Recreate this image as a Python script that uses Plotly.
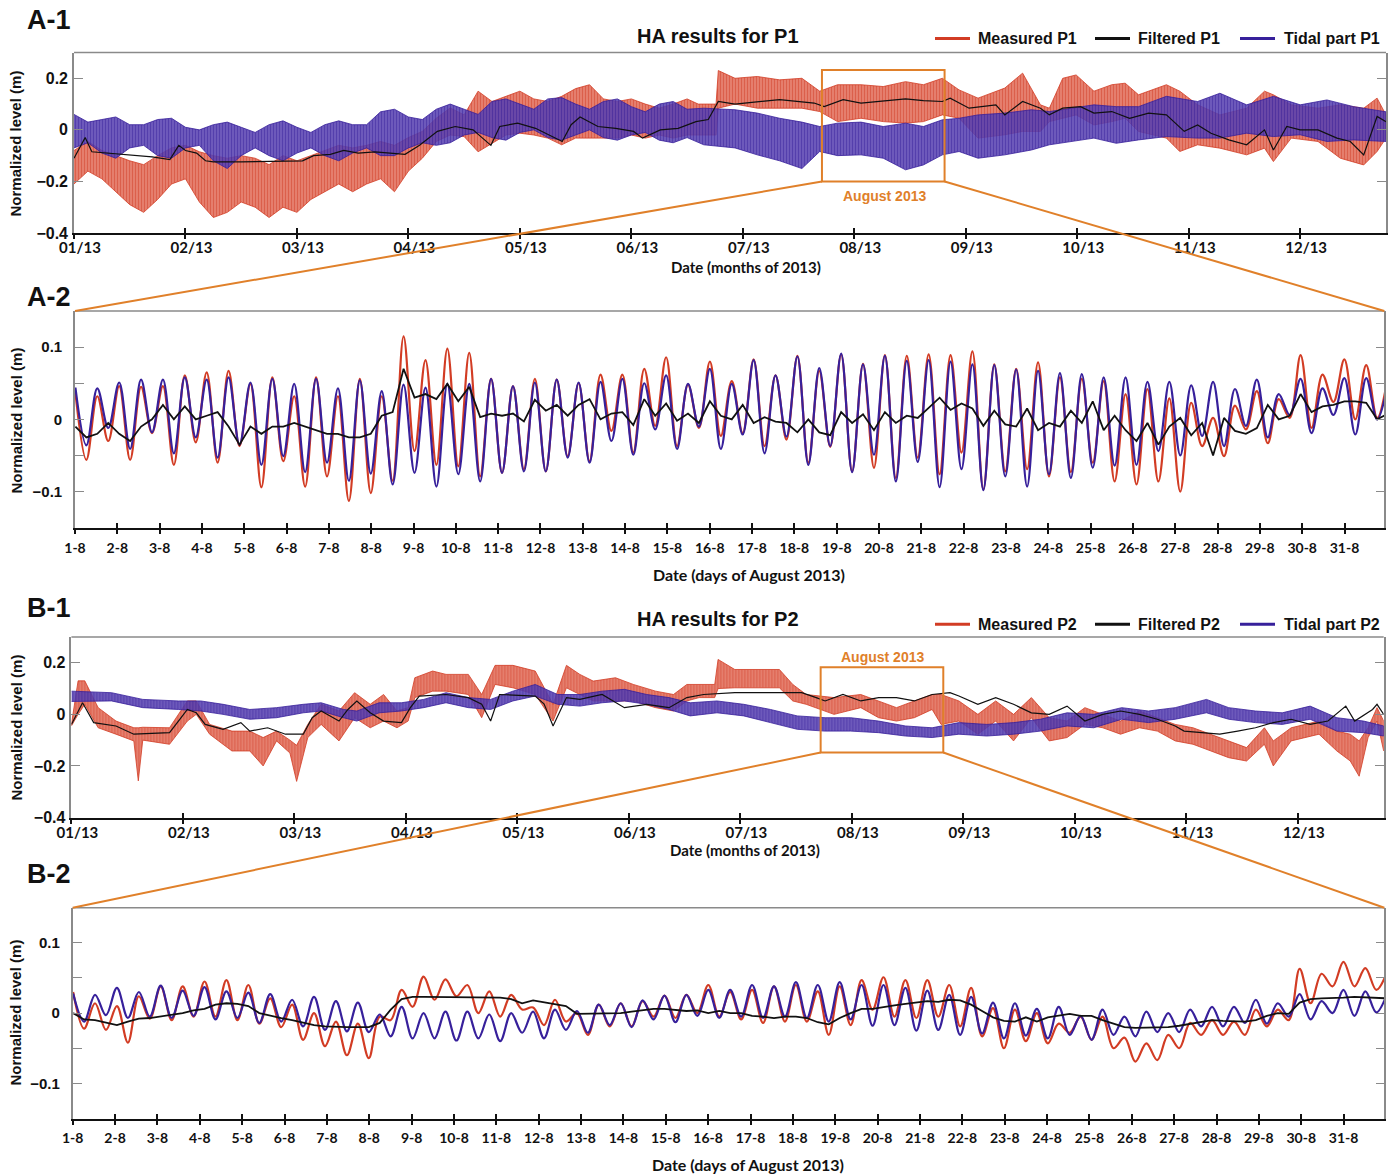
import plotly.graph_objects as go

# ---------------------------------------------------------------------------
# Page geometry helpers (pixel -> paper fraction)
# ---------------------------------------------------------------------------
W, H = 1394, 1174


def fx(px):
    return px / W


def fy(py):
    return 1 - py / H


RED = "#d23c24"
BLUE = "#37209b"
BLACK = "#111111"
ORANGE = "#e0802a"
FRAME = "#8a8a8a"
SANS = "Liberation Sans, Arial, sans-serif"
LABEL = "Lato, Liberation Sans, sans-serif"

# ---------------------------------------------------------------------------
# Axis ticks
# ---------------------------------------------------------------------------
MONTH_TICKS = [0, 1, 2, 3, 4, 5, 6, 7, 8, 9, 10, 11]
MONTH_LABELS = ["01/13", "02/13", "03/13", "04/13", "05/13", "06/13",
                "07/13", "08/13", "09/13", "10/13", "11/13", "12/13"]
DAY_TICKS = [1, 2, 3, 4, 5, 6, 7, 8, 9, 10, 11, 12, 13, 14, 15, 16, 17, 18,
             19, 20, 21, 22, 23, 24, 25, 26, 27, 28, 29, 30, 31]
DAY_LABELS = ["1-8", "2-8", "3-8", "4-8", "5-8", "6-8", "7-8", "8-8", "9-8",
              "10-8", "11-8", "12-8", "13-8", "14-8", "15-8", "16-8", "17-8",
              "18-8", "19-8", "20-8", "21-8", "22-8", "23-8", "24-8", "25-8",
              "26-8", "27-8", "28-8", "29-8", "30-8", "31-8"]

# ---------------------------------------------------------------------------
# P1, whole year (x in months since 1 Jan 2013); tidal & measured as envelopes
# ---------------------------------------------------------------------------
A1_TIDAL_M = [0, 0.125, 0.25, 0.375, 0.5, 0.625, 0.75, 0.875, 1.0, 1.125, 1.25,
              1.375, 1.5, 1.625, 1.75, 1.875, 2.0, 2.125, 2.25, 2.375, 2.5, 2.625,
              2.75, 2.875, 3.0, 3.125, 3.25, 3.375, 3.5, 3.625, 3.75, 3.875, 4.0,
              4.125, 4.25, 4.375, 4.5, 4.625, 4.75, 4.875, 5.0, 5.125, 5.25, 5.375,
              5.5, 5.65, 5.93, 6.13, 6.33, 6.53, 6.69, 6.85, 7.06, 7.26, 7.46, 7.62,
              7.79, 7.94, 8.11, 8.35, 8.59, 8.75, 8.95, 9.15, 9.35, 9.55, 9.8,
              10.08, 10.28, 10.52, 10.76, 11.0, 11.24, 11.48, 11.77]
A1_TIDAL_HI = [.06, .03, .04, .05, .02, .02, .04, .045, .01, 0, .02, .03, .01, -.01,
               .02, .035, .01, -.01, .02, .035, .02, .02, .07, .08, .05, .04, .08, .1,
               .08, .06, .11, .12, .1, .08, .12, .125, .1, .08, .11, .12, .09, .07,
               .1, .11, .08,
               .084, .078, .065, .045, .03, .013, .026, .03, .013, .026, .013, .039,
               .045, .058, .065, .078, .071, .084, .097, .09, .09, .13, .11, .142,
               .097, .13, .097, .116, .09, .07]
A1_TIDAL_LO = [-.07, -.05, -.09, -.11, -.07, -.06, -.1, -.11, -.07, -.06, -.12, -.15,
               -.1, -.07, -.1, -.12, -.09, -.07, -.1, -.12, -.09, -.07, -.1, -.1,
               -.07, -.05, -.06, -.05, -.02, -.01, -.03, -.04, -.01, 0, -.03, -.04,
               -.02, 0, -.03, -.04, -.02, -.01, -.04, -.05, -.03,
               -.058, -.07, -.097, -.12, -.15, -.084, -.1, -.097, -.11, -.155,
               -.136, -.097, -.084, -.11, -.097, -.078, -.058, -.045, -.032, -.052,
               -.039, -.026, -.032, -.032, -.013, -.026, -.019, -.045, -.039, -.045]

A1_MEAS_M = [0, 0.125, 0.25, 0.375, 0.5, 0.625, 0.75, 0.875, 1.0, 1.125, 1.25,
             1.375, 1.5, 1.625, 1.75, 1.875, 2.0, 2.125, 2.25, 2.375, 2.5, 2.625,
             2.75, 2.875, 3.0, 3.125, 3.25, 3.375, 3.5, 3.625, 3.75, 3.875, 4.0,
             4.125, 4.25, 4.375, 4.5, 4.625, 4.75, 4.875, 5.0, 5.125, 5.25, 5.375,
             5.5, 5.6, 5.76, 5.78, 5.93, 6.13, 6.33, 6.53, 6.69, 6.85, 7.06, 7.26,
             7.46, 7.62, 7.79, 7.94, 8.11, 8.35, 8.51, 8.67, 8.75, 8.87, 8.99,
             9.15, 9.31, 9.43, 9.55, 9.8, 9.92, 10.08, 10.28, 10.52, 10.68, 10.76,
             10.92, 11.16, 11.36, 11.57, 11.69, 11.77]
A1_MEAS_HI = [-.08, -.045, -.08, -.1, -.12, -.135, -.1, -.07, -.06, -.085, -.1, -.11,
              -.1, -.11, -.135, -.1, -.12, -.1, -.08, -.06, -.07, -.06, -.045, -.06,
              -.03, -.006, .045, .085, .058, .15, .11, .13, .15, .12, .11, .13, .16,
              .175, .12, .11, .12, .1, .084, .1, .12,
              .1, .1, .23, .2, .207, .194, .2, .15, .175, .175, .168, .187, .175, .2,
              .155, .123, .162, .22, .097, .084, .2, .213, .15, .175, .181, .136,
              .175, .15, .097, .058, .084, .15, .136, .097, .084, .097, .084, .123,
              .058]
A1_MEAS_LO = [-.21, -.16, -.19, -.24, -.29, -.32, -.27, -.21, -.19, -.28, -.34, -.32,
              -.28, -.3, -.34, -.3, -.32, -.27, -.24, -.21, -.24, -.21, -.19, -.24,
              -.16, -.11, -.045, -.02, -.026, -.085, -.052, -.02, -.013, -.02, -.032,
              -.058, -.032, -.032, -.032, -.032, -.02, -.032, -.02, -.032, -.02,
              -.02, -.02, .084, .1, .084, .084, .084, .071, .032, .045, .032, .026,
              .032, .058, .045, -.032, -.019, -.006, -.006, .032, .045, .058, .019,
              .032, .045, -.006, -.032, -.084, -.058, -.071, -.097, -.071, -.123,
              -.032, -.045, -.11, -.136, -.084, -.032]

A1_FILT_M = [0, .1, .16, .3, .5, .7, .86, .94, 1.0, 1.1, 1.18, 1.25, 1.5, 1.75, 2.05,
             2.15, 2.3, 2.42, 2.55, 2.7, 2.85, 2.97, 3.1, 3.26, 3.42, 3.58, 3.66,
             3.74, 3.82, 3.98, 4.14, 4.3, 4.38, 4.46, 4.54, 4.7, 4.86, 5.02, 5.1,
             5.26, 5.42, 5.58, 5.69, 5.78, 5.93, 6.33, 6.64, 6.73, 6.9, 7.06, 7.22,
             7.46, 7.62, 7.79, 7.86, 8.03, 8.27, 8.35, 8.51, 8.67, 8.75, 8.87, 9.03,
             9.15, 9.31, 9.47, 9.64, 9.8, 9.96, 10.08, 10.2, 10.36, 10.52, 10.68,
             10.76, 10.88, 11.0, 11.16, 11.33, 11.45, 11.57, 11.69, 11.77]
A1_FILT = [-.11, -.03, -.085, -.09, -.1, -.105, -.115, -.06, -.08, -.09, -.12, -.124,
           -.124, -.123, -.12, -.1, -.095, -.08, -.09, -.085, -.09, -.095, -.06,
           -.006, .013, 0, -.03, -.06, .013, .026, .006, -.03, -.045, .02, .05, .013,
           .006, -.006, -.032, 0, .006, .032, .04, .11, .1, .117, .104, .09, .117,
           .104, .11, .12, .113, .11, .123, .084, .097, .058, .11, .084, .058, .084,
           .09, .065, .071, .045, .065, .058, -.006, .019, -.013, -.039, -.058, 0,
           -.078, .013, 0, 0, -.032, -.045, -.097, .052, .032]

# ---------------------------------------------------------------------------
# P2, whole year
# ---------------------------------------------------------------------------
B1_TIDAL_M = [0, .36, .64, .96, 1.16, 1.36, 1.6, 1.84, 2.08, 2.24, 2.44, 2.56, 2.76,
              2.96, 3.16, 3.36, 3.56, 3.76, 3.96, 4.16, 4.36, 4.56, 4.76, 4.96, 5.16,
              5.36, 5.55, 5.79, 6.03, 6.27, 6.51, 6.76, 6.99, 7.24, 7.48, 7.72, 7.96,
              8.21, 8.45, 8.69, 8.93, 9.17, 9.42, 9.66, 9.9, 10.18, 10.38, 10.62,
              10.86, 11.11, 11.35, 11.59, 11.77]
B1_TIDAL_HI = [.09, .084, .058, .052, .052, .039, .019, .026, .039, .045, .019, .013,
               .045, .045, .058, .084, .065, .058, .09, .116, .077, .077, .09, .097,
               .077, .065, .045, .052, .039, .019, -.006, -.013, -.013, -.026, -.045,
               -.052, -.032, -.039, -.032, -.019, .006, 0, .026, .013, .026, .058,
               .026, .013, .006, .032, -.013, -.026, -.045]
B1_TIDAL_LO = [.05, .052, .026, .019, .013, 0, -.019, -.013, .006, .013, -.013, -.026,
               .006, .013, .026, .045, .026, .019, .052, .071, .039, .032, .045, .052,
               .039, .019, -.006, .006, -.006, -.032, -.058, -.065, -.065, -.071,
               -.084, -.09, -.077, -.084, -.077, -.065, -.045, -.052, -.019, -.032,
               -.019, .006, -.019, -.032, -.039, -.019, -.065, -.071, -.084]

B1_MEAS_M = [0, .06, .12, .24, .4, .56, .6, .64, .88, 1.04, 1.12, 1.24, 1.44, 1.6,
             1.72, 1.84, 1.96, 2.02, 2.12, 2.24, 2.4, 2.54, 2.68, 2.8, 2.92, 3.02,
             3.08, 3.24, 3.36, 3.56, 3.68, 3.8, 3.96, 4.16, 4.32, 4.44, 4.56, 4.68,
             4.88, 5.04, 5.24, 5.4, 5.52, 5.63, 5.77, 5.8, 5.95, 6.35, 6.47, 6.59,
             6.84, 7.08, 7.24, 7.4, 7.56, 7.72, 7.8, 7.96, 8.13, 8.29, 8.45, 8.61,
             8.77, 8.93, 9.09, 9.25, 9.41, 9.58, 9.74, 9.9, 10.06, 10.22, 10.38,
             10.54, 10.7, 10.78, 10.94, 11.19, 11.35, 11.47, 11.55, 11.63, 11.71,
             11.77]
B1_MEAS_HI = [-.039, .13, .13, .026, -.026, -.052, -.052, -.05, -.052, .052, .052,
              -.039, -.065, -.065, -.09, -.065, -.1, -.12, -.039, .039, .013, .084,
              .039, .077, .013, .026, .142, .168, .155, .155, .077, .19, .19, .168,
              .039, .19, .155, .129, .142, .116, .09, .077, .116, .116, .116, .213,
              .174, .174, .116, .077, .065, .077, .052, .026, .052, .077, .077, .052,
              0, .052, 0, .065, -.013, -.026, .026, 0, -.026, .013, -.013, -.039,
              -.052, -.077, -.103, -.129, -.052, -.103, -.052, -.026, -.065, -.077,
              -.103, -.052, .026, -.026]
B1_MEAS_LO = [-.045, 0, .039, -.052, -.077, -.103, -.258, -.1, -.116, -.026, 0,
              -.077, -.142, -.142, -.2, -.103, -.15, -.26, -.09, -.039, -.103, -.013,
              -.052, -.026, -.052, -.026, .065, .09, .09, .077, -.013, .116, .103,
              .077, -.026, .103, .077, .052, .052, .052, .026, .013, .052, .065, .065,
              .1, .103, .103, .052, .039, 0, .026, -.013, -.026, -.013, .019, -.039,
              -.026, -.077, -.026, -.103, -.013, -.103, -.09, -.039, -.052, -.077,
              -.052, -.065, -.103, -.116, -.142, -.168, -.181, -.116, -.2, -.103,
              -.077, -.142, -.181, -.24, -.09, -.026, -.142]

B1_FILT_M = [0, .1, .2, .4, .56, .88, .96, 1.04, 1.12, 1.2, 1.36, 1.52, 1.6, 1.76,
             1.92, 2.08, 2.16, 2.24, 2.4, 2.48, 2.56, 2.68, 2.8, 2.96, 3.04, 3.12,
             3.36, 3.56, 3.68, 3.76, 3.84, 4.16, 4.24, 4.32, 4.44, 4.56, 4.76, 4.96,
             5.16, 5.36, 5.52, 5.67, 5.95, 6.55, 6.68, 6.76, 6.92, 7.08, 7.24, 7.4,
             7.56, 7.72, 7.88, 7.96, 8.13, 8.29, 8.45, 8.61, 8.77, 8.93, 9.09, 9.25,
             9.41, 9.58, 9.74, 9.9, 9.98, 10.14, 10.3, 10.46, 10.62, 10.78, 10.94,
             11.11, 11.27, 11.43, 11.51, 11.67, 11.71, 11.77]
B1_FILT = [-.039, .045, -.032, -.045, -.077, -.071, -.026, .019, .006, -.039, -.058,
           -.032, -.065, -.052, -.077, -.077, -.013, .013, -.026, .019, .052, .006,
           -.026, -.032, .026, .071, .077, .065, .039, -.026, .077, .071, .04, -.045,
           .065, .058, .077, .026, .039, .026, .065, .077, .084, .084, .065, .052,
           .077, .052, .065, .065, .052, .077, .084, .071, .039, .065, .039, .006, 0,
           .032, -.026, 0, .013, 0, -.019, -.045, -.065, -.071, -.077, -.065, -.052,
           -.032, -.019, -.039, -.026, .032, -.026, .019, .039, 0]

# ---------------------------------------------------------------------------
# August 2013 (x in day of month). Tidal / measured series are given as their
# successive high- and low-water values, sampled every half tidal cycle.
# ---------------------------------------------------------------------------
AUG_START_DAY = 1.01
HALF_CYCLE_DAYS = 0.2585
AUG_T = [round(AUG_START_DAY + HALF_CYCLE_DAYS * k, 4) for k in range(121)]

A2_TIDAL_HIGH = [.044, .043, .051, .055, .055, .058, .055, .058, .051, .056, .049, .056,
                 .043, .054, .039, .048, .044, .049, .049, .056, .046, .051, .055, .051,
                 .052, .056, .05, .061, .049, .07, .049, .082, .061, .087, .071, .091,
                 .076, .088, .081, .082, .08, .076, .075, .069, .067, .064, .0625, .058,
                 .058, .052, .052, .047, .052, .042, .055, .035, .056, .043, .057, .057,
                 .051]
A2_TIDAL_LOW = [-.036, -.012, -.041, -.018, -.047, -.025, -.053, -.035, -.063, -.051,
                -.073, -.06, -.085, -.075, -.09, -.074, -.093, -.076, -.086, -.074,
                -.072, -.072, -.053, -.06, -.03, -.049, -.014, -.041, -.01, -.041,
                -.021, -.047, -.024, -.063, -.037, -.073, -.049, -.086, -.059, -.094,
                -.069, -.098, -.079, -.093, -.076, -.081, -.067, -.064, -.063, -.044,
                -.05, -.023, -.037, -.009, -.025, .006, -.019, .006, -.021, 0]
A2_MEAS_HIGH = [.037, .032, .046, .045, .046, .061, .065, .067, .049, .058, .032, .058,
                .032, .056, .032, .115, .082, .098, .092, .056, .046, .056, .055, .05,
                .062, .062, .07, .086, .048, .08, .053, .083, .061, .088, .067, .09,
                .077, .089, .088, .09, .089, .094, .076, .07, .079, .058, .056, .053,
                .035, .042, .029, .023, .002, .019, .039, .028, .089, .062, .083, .075,
                .061]
A2_MEAS_LOW = [-.056, -.03, -.056, -.019, -.063, -.032, -.06, -.037, -.094, -.058,
               -.093, -.079, -.113, -.102, -.085, -.044, -.063, -.065, -.079, -.074,
               -.069, -.072, -.051, -.058, -.016, -.046, -.009, -.037, -.012, -.023,
               -.019, -.037, -.028, -.06, -.038, -.072, -.067, -.081, -.053, -.076,
               -.046, -.097, -.072, -.069, -.079, -.073, -.06, -.086, -.09, -.086,
               -.1, -.037, -.051, -.014, -.033, .002, -.012, .024, 0, .002]
A2_FILT = [-.01, -.025, -.02, -.005, -.02, -.03, -.01, 0, .02, 0, .018, 0, .005, .01,
           -.01, -.035, -.01, -.02, -.01, -.01, -.005, -.01, -.015, -.02, -.02, -.025,
           -.025, -.02, .005, .01,
           .07, .03, .035, .028, .049, .025, .045, .003, .008, .005, .008, -.003, .027,
           .012, .02, .005, .02, .028, 0, .008, .01, -.008, .028, .005, .022, -.002,
           .008, -.005, .025, .005, 0,
           .02, -.005, .003, -.003, -.005, -.018, 0, -.018, -.022, .01, -.005, .007,
           -.015, .01, -.005, .005, .002, .016, .03, .013, .022, .015, -.009, .012,
           -.007, -.01, .015, -.015, -.005, -.01,
           .012, -.005, .025, -.015, .005, -.015, -.03, -.005, -.035, -.01, .002,
           -.022, -.005, -.05, .002, -.016, -.02, -.012, .02, 0, .005, .035, .01, .018,
           .02, .025, .025, .023, 0, .008]

B2_TIDAL_HIGH = [.028, .026, .036, .03, .039, .032, .037, .031, .029, .027, .019, .023,
                 .017, .015, -.002, .009, 0, .002, .002, -.002, 0, .002, .005, .003,
                 .012, .014, .018, .025, .026, .033, .033, .04, .038, .044, .04, .044,
                 .04, .04, .036, .032, .026, .023, .015, .014, .006, .009, -.004, .005,
                 -.005, .002, 0, .005, .009, .009, .019, .014, .027, .017, .033, .031,
                 .028]
B2_TIDAL_LOW = [-.012, -.003, -.007, -.005, -.007, -.004, -.009, -.007, -.014, -.012,
                -.019, -.024, -.026, -.027, -.033, -.036, -.036, -.039, -.036, -.04,
                -.028, -.036, -.024, -.028, -.017, -.02, -.009, -.013, -.004, -.007,
                -.005, -.007, -.005, -.007, -.012, -.009, -.018, -.017, -.025, -.024,
                -.031, -.029, -.036, -.032, -.036, -.031, -.038, -.031, -.033, -.027,
                -.027, -.019, -.019, -.014, -.015, -.005, -.009, 0, -.004, .001]
B2_MEAS_HIGH = [.03, .014, .01, .024, .038, .038, .045, .047, .04, .021, .012, 0, -.012,
                -.015, -.005, .033, .052, .048, .04, .031, .026, .008, .019, 0, .012,
                .014, .017, .025, .026, .04, .03, .033, .038, .04, .031, .038, .047,
                .051, .047, .047, .04, .036, .007, .005, 0, -.015, -.005, -.005, -.035,
                -.043, -.031, -.014, -.01, -.012, .005, .005, .063, .056, .073, .064,
                .059]
B2_MEAS_LOW = [-.022, -.024, -.042, -.008, -.01, -.005, -.005, -.01, -.015, -.02,
               -.038, -.047, -.06, -.064, -.01, .009, .019, .024, 0, -.005, .005, -.017,
               -.012, -.031, -.019, -.019, -.005, -.007, 0, -.005, -.009, -.014, -.012,
               -.012, -.031, -.017, .005, -.005, -.007, -.005, -.019, -.033, -.05, -.04,
               -.043, -.028, -.038, -.05, -.069, -.067, -.05, -.031, -.031, -.031,
               -.019, -.01, .014, .038, .038, .033]
B2_FILT = [0, -.009, -.01, -.013, -.017, -.012, -.008, -.007, -.005, -.003, 0, .004,
           .006, .012, .014, .013, .01, 0, -.004, -.007, -.01, -.014, -.017, -.019,
           -.02, -.02, -.02, -.02, -.014, .005,
           .02, .023, .023, .023, .023, .023, .023, .023, .023, .022, .02, .014, .018,
           .015, .013, .01, -.001, -.001, -.001, -.001, 0, .002, .004, .006, .006,
           .004, .003, .004, 0, .003, 0,
           0, -.004, -.005, -.007, -.005, -.005, -.007, -.013, -.016, -.007, 0, .006,
           .006, .009, .011, .013, .015, .017, .016, .019, .018, .012, .003, -.006,
           -.011, -.012, -.006, -.012, -.006, -.004,
           -.001, -.004, -.004, -.01, -.015, -.02, -.021, -.021, -.021, -.02, -.018,
           -.015, -.012, -.01, -.011, -.012, -.012, -.01, -.004, 0, -.001, .015, .02,
           .021, .021, .022, .023, .022, .022, .021]


def interleave(highs, lows):
    out = []
    for i, h in enumerate(highs):
        out.append(h)
        if i < len(lows):
            out.append(lows[i])
    return out


# ---------------------------------------------------------------------------
# Panel placement (pixels) and axis ranges
# ---------------------------------------------------------------------------
PANELS = {
    "A1": dict(x="x", y="y", l=74, r=1386, t=52.5, b=233, xr=[0, 11.77], yr=[-0.4, 0.3]),
    "A2": dict(x="x2", y="y2", l=75, r=1384.3, t=311, b=527.7, xr=[1, 31.94], yr=[-0.15, 0.15]),
    "B1": dict(x="x3", y="y3", l=71.4, r=1383.7, t=637, b=817.5, xr=[0, 11.77], yr=[-0.4, 0.3]),
    "B2": dict(x="x4", y="y4", l=72.7, r=1384.3, t=907.7, b=1118.5, xr=[1, 31.96], yr=[-0.15, 0.15]),
}


def to_px(panel, xv, yv):
    p = PANELS[panel]
    x = p["l"] + (xv - p["xr"][0]) / (p["xr"][1] - p["xr"][0]) * (p["r"] - p["l"])
    y = p["b"] - (yv - p["yr"][0]) / (p["yr"][1] - p["yr"][0]) * (p["b"] - p["t"])
    return x, y


fig = go.Figure()


def band(months, hi, lo, color, bg, xa, ya):
    fig.add_trace(go.Scatter(
        x=months + months[::-1], y=hi + lo[::-1], xaxis=xa, yaxis=ya,
        mode="lines", fill="toself",
        line=dict(color=color, width=0.8),
        fillpattern=dict(shape="|", fgcolor=color, bgcolor=bg, size=3, solidity=0.45),
        showlegend=False, hoverinfo="skip"))


def line(xs, ys, color, width, xa, ya, shape="linear"):
    fig.add_trace(go.Scatter(
        x=xs, y=ys, xaxis=xa, yaxis=ya, mode="lines",
        line=dict(color=color, width=width, shape=shape, smoothing=1.0),
        showlegend=False, hoverinfo="skip"))


RED_BG = "rgba(222,100,80,0.8)"
BLUE_BG = "rgba(88,66,178,0.85)"

# Whole-year panels
band(A1_MEAS_M, A1_MEAS_HI, A1_MEAS_LO, RED, RED_BG, "x", "y")
band(A1_TIDAL_M, A1_TIDAL_HI, A1_TIDAL_LO, BLUE, BLUE_BG, "x", "y")
line(A1_FILT_M, A1_FILT, BLACK, 1.2, "x", "y")

band(B1_MEAS_M, B1_MEAS_HI, B1_MEAS_LO, RED, RED_BG, "x3", "y3")
band(B1_TIDAL_M, B1_TIDAL_HI, B1_TIDAL_LO, BLUE, BLUE_BG, "x3", "y3")
line(B1_FILT_M, B1_FILT, BLACK, 1.2, "x3", "y3")

# August panels
line(AUG_T, interleave(A2_MEAS_HIGH, A2_MEAS_LOW), RED, 2.2, "x2", "y2", "spline")
line(AUG_T, interleave(A2_TIDAL_HIGH, A2_TIDAL_LOW), BLUE, 2.2, "x2", "y2", "spline")
line(AUG_T, A2_FILT, BLACK, 1.8, "x2", "y2")

line(AUG_T, interleave(B2_MEAS_HIGH, B2_MEAS_LOW), RED, 2.2, "x4", "y4", "spline")
line(AUG_T, interleave(B2_TIDAL_HIGH, B2_TIDAL_LOW), BLUE, 2.2, "x4", "y4", "spline")
line(AUG_T, B2_FILT, BLACK, 1.8, "x4", "y4")

# Empty traces carrying the inner half of the crossing x ticks
for i, key in enumerate(["A1", "A2", "B1", "B2"]):
    fig.add_trace(go.Scatter(x=[None], y=[None], xaxis="x%d" % (i + 5),
                             yaxis=PANELS[key]["y"], mode="lines",
                             showlegend=False, hoverinfo="skip"))

layout = dict(
    width=W, height=H, margin=dict(l=0, r=0, t=0, b=0, autoexpand=False),
    paper_bgcolor="white", plot_bgcolor="white", showlegend=False,
)

for i, key in enumerate(["A1", "A2", "B1", "B2"]):
    p = PANELS[key]
    yearly = key.endswith("1")
    xname = "xaxis" if p["x"] == "x" else "xaxis" + p["x"][1:]
    yname = "yaxis" if p["y"] == "y" else "yaxis" + p["y"][1:]
    tickvals = MONTH_TICKS if yearly else DAY_TICKS
    ticktext = MONTH_LABELS if yearly else DAY_LABELS
    xdomain = [fx(p["l"]), fx(p["r"])]
    layout[xname] = dict(
        domain=xdomain, range=p["xr"], anchor=p["y"], automargin=False,
        tickmode="array", tickvals=tickvals, ticktext=ticktext,
        ticks="outside", ticklen=4, tickwidth=1.6, tickcolor=BLACK,
        showline=True, linecolor=BLACK, linewidth=2.2,
        showgrid=False, zeroline=False,
        tickfont=dict(family=LABEL, size=15 if yearly else 14, color=BLACK, weight="bold"),
        ticklabelshift=6 if yearly else 0,
        ticklabelstandoff=-4 if yearly else 2,
    )
    layout["xaxis%d" % (i + 5)] = dict(
        overlaying=p["x"], anchor=p["y"], range=p["xr"], automargin=False,
        tickmode="array", tickvals=tickvals, ticks="inside",
        ticklen=5, tickwidth=1.6, tickcolor=BLACK,
        showticklabels=False, showline=False, showgrid=False, zeroline=False,
    )
    if yearly:
        ytv = [-0.4, -0.2, 0, 0.2]
        ytt = ["\u22120.4", "\u22120.2", "0", "0.2"]
    else:
        ytv = [-0.1, -0.05, 0, 0.05, 0.1]
        ytt = ["\u22120.1", "", "0", "", "0.1"]
    layout[yname] = dict(
        domain=[fy(p["b"]), fy(p["t"])], range=p["yr"], anchor=p["x"], automargin=False,
        tickmode="array", tickvals=ytv, ticktext=ytt,
        ticks="inside", ticklen=9, tickwidth=1.4, tickcolor=FRAME,
        showline=True, linecolor=FRAME, linewidth=1.6, mirror="ticks",
        showgrid=False, zeroline=False,
        tickfont=dict(family=SANS, size=16 if yearly else 15, color=BLACK, weight="bold"),
        ticklabelstandoff=1 if yearly else 8,
    )

shapes = []
# top edge of every plot frame
for key in ["A1", "A2", "B1", "B2"]:
    p = PANELS[key]
    shapes.append(dict(type="line", xref=p["x"] + " domain", yref=p["y"] + " domain",
                       x0=0, x1=1, y0=1, y1=1, line=dict(color=FRAME, width=1.6)))

# August window in the yearly panels and the zoom connectors
ZOOM_BOX = {"A1": dict(x=[6.71, 7.81], y=[-0.2, 0.232], to="A2"),
            "B1": dict(x=[6.72, 7.82], y=[-0.148, 0.183], to="B2")}
for key, box in ZOOM_BOX.items():
    p = PANELS[key]
    shapes.append(dict(type="rect", xref=p["x"], yref=p["y"],
                       x0=box["x"][0], x1=box["x"][1], y0=box["y"][0], y1=box["y"][1],
                       line=dict(color=ORANGE, width=2)))
    q = PANELS[box["to"]]
    for side, qx in ((0, q["l"]), (1, q["r"])):
        bx, by = to_px(key, box["x"][side], box["y"][0])
        shapes.append(dict(type="line", xref="paper", yref="paper",
                           x0=fx(bx), y0=fy(by), x1=fx(qx), y1=fy(q["t"]),
                           line=dict(color=ORANGE, width=2)))

annotations = []


def text(x, y, s, size, family=SANS, color=BLACK, xanchor="center", angle=0):
    annotations.append(dict(
        x=fx(x), y=fy(y), xref="paper", yref="paper", text=s, showarrow=False,
        xanchor=xanchor, yanchor="middle", textangle=angle,
        font=dict(family=family, size=size, color=color, weight="bold")))


# Legends drawn as sample strokes plus labels
LEGEND_ROWS = [(38.5, "P1"), (624.3, "P2")]
LEGEND_ITEMS = [(935, 970, 976, RED, "Measured"),
                (1095, 1130, 1136, BLACK, "Filtered"),
                (1240, 1275, 1282, BLUE, "Tidal part")]
for ly, tag in LEGEND_ROWS:
    for x0, x1, tx, col, name in LEGEND_ITEMS:
        shapes.append(dict(type="line", xref="paper", yref="paper",
                           x0=fx(x0), x1=fx(x1), y0=fy(ly), y1=fy(ly),
                           line=dict(color=col, width=3)))
        text(tx, ly + 0.5, "%s %s" % (name, tag), 16, xanchor="left")

text(25, 20, "A-1", 27, xanchor="left")
text(25, 297, "A-2", 27, xanchor="left")
text(25, 608, "B-1", 27, xanchor="left")
text(25, 874, "B-2", 27, xanchor="left")

text(718, 36, "HA results for P1", 20)
text(718, 619, "HA results for P2", 20)

text(884.5, 195.5, "August 2013", 14, color=ORANGE)
text(882, 657, "August 2013", 14, color=ORANGE)

for yc in (144, 421, 728, 1013):
    text(15.5, yc, "Normalized level (m)", 15, angle=-90)

text(746, 267, "Date (months of 2013)", 15, family=LABEL)
text(745, 850, "Date (months of 2013)", 15, family=LABEL)
text(749, 574, "Date (days of August 2013)", 16, family=LABEL)
text(747.5, 1164, "Date (days of August 2013)", 16, family=LABEL)

layout["shapes"] = shapes
layout["annotations"] = annotations
fig.update_layout(**layout)

fig.write_html("out.html")
